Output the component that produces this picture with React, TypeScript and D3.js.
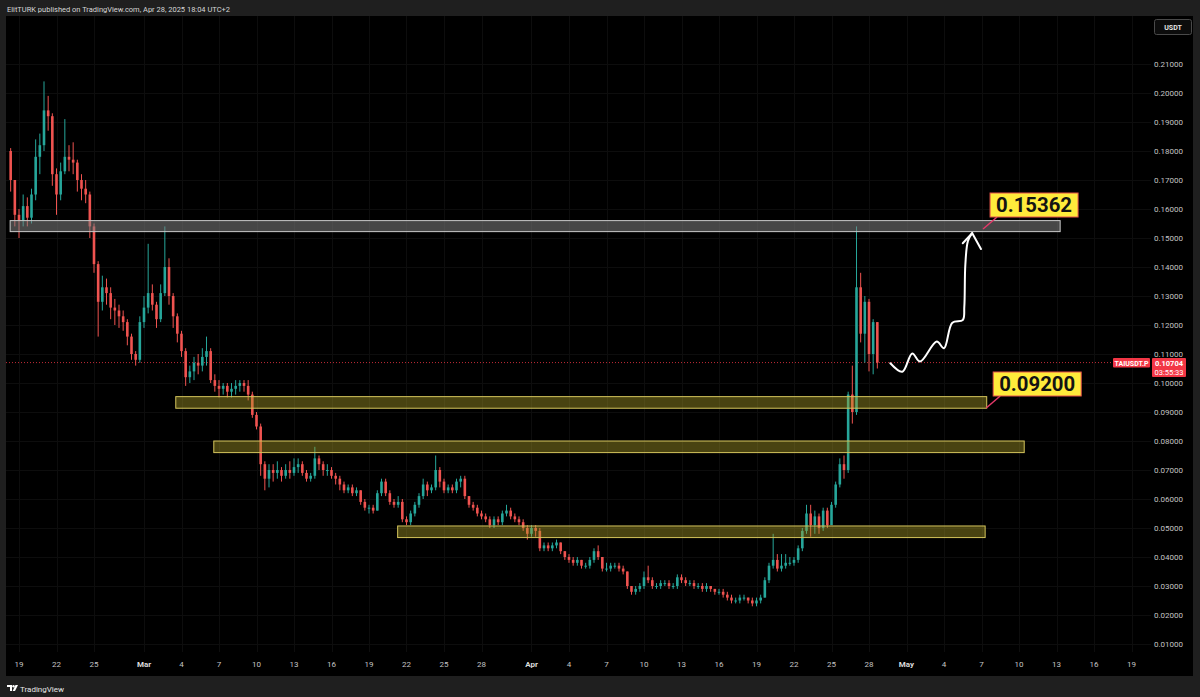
import React from 'react';
import * as d3 from 'd3';

// ---------- DATA (8h candles, prices in thousandths of USDT) ----------
const START_TIME = Date.UTC(2025, 1, 18, 8);
const STEP_MS = 8 * 3600 * 1000;
const FIRST_OPEN_K = 180;

const closesK = [
  170, 158, 156, 161, 157, 165, 178, 182, 194, 192,
  172, 165, 173, 178, 177, 176, 170, 167, 165, 154,
  141, 128, 133, 131, 126, 125, 123, 121, 116, 110,
  108, 121, 126, 131, 127, 122, 131, 140, 130, 123,
  117, 111, 102, 104, 107, 106, 109, 111, 101, 99,
  98, 99, 97, 98, 99, 100, 99, 96, 89, 85,
  72, 67, 70, 69, 70, 68, 70, 69, 71, 72,
  69, 67, 68, 74, 72, 70, 70, 68, 67, 65,
  63, 64, 62, 63, 59, 57, 57, 56, 62, 66,
  62, 59, 58, 59, 53, 52, 55, 58, 61, 65,
  63, 64, 70, 66, 63, 64, 63, 66, 67, 61,
  58, 57, 55, 54, 53, 51, 53, 52, 55, 56,
  54, 53, 52, 50, 48, 50, 49, 43, 44, 43,
  44, 45, 42, 40, 39, 38, 39, 37, 37, 39,
  42, 40, 36, 36, 37, 37, 36, 35, 30, 28,
  29, 30, 33, 32, 30, 30, 31, 31, 30, 30,
  33, 32, 31, 31, 30, 30, 29, 30, 29, 28,
  28, 27, 26, 25, 25, 26, 26, 25, 24, 25,
  26, 32, 37, 39, 36, 37, 38, 38, 39, 43,
  49, 55, 51, 54, 50, 56, 51, 58, 65, 72,
  70, 96, 90, 133, 117, 128, 110, 121, 107.04,
];

const highsK = [
  181, 168, 160, 165, 164, 167, 184, 186, 204, 199,
  193, 174, 176, 191, 182, 183, 177, 172, 170, 166,
  155, 142, 137, 136, 133, 129, 127, 125, 122, 117,
  111, 123, 130, 148, 134, 128, 134, 154, 143, 131,
  124, 118, 112, 106, 109, 110, 112, 116, 112, 103,
  101, 100, 100, 100, 101, 101, 101, 101, 97, 90,
  86, 73, 72, 72, 73, 71, 72, 73, 74, 74,
  73, 70, 69, 78, 75, 73, 72, 71, 69, 68,
  66, 65, 65, 64, 63, 60, 58, 58, 63, 67,
  67, 63, 60, 61, 60, 54, 56, 59, 62, 67,
  66, 65, 75, 71, 67, 65, 65, 67, 68, 68,
  61, 59, 58, 56, 55, 54, 54, 54, 56, 58,
  57, 55, 54, 53, 51, 51, 51, 50, 45, 45,
  45, 46, 45, 42, 41, 40, 40, 39, 38, 40,
  43, 44, 40, 38, 38, 38, 38, 37, 35, 30,
  30, 31, 35, 37, 33, 31, 32, 32, 32, 31,
  34, 34, 33, 32, 32, 31, 31, 31, 30, 29,
  29, 29, 28, 27, 26, 27, 27, 26, 26, 26,
  27, 33, 38, 48, 41, 41, 41, 40, 40, 44,
  50, 58, 58, 56, 55, 57, 57, 59, 66, 74,
  75, 97, 106, 154, 138, 130, 129, 122, 121,
];

const lowsK = [
  166, 154, 150, 154, 154, 155, 163, 172, 180, 187,
  168, 158, 163, 172, 173, 172, 166, 163, 162, 150,
  138, 116, 125, 127, 122, 120, 119, 118, 113, 108,
  106, 107, 119, 124, 125, 119, 121, 130, 127, 119,
  114, 109, 99, 100, 101, 103, 104, 106, 100, 97,
  95, 96, 95, 95, 96, 97, 97, 94, 88, 84,
  68, 63, 64, 66, 67, 66, 67, 67, 68, 69,
  68, 66, 66, 67, 70, 68, 68, 67, 65, 63,
  62, 62, 61, 61, 58, 56, 55, 55, 56, 61,
  61, 58, 57, 57, 52, 51, 51, 54, 57, 60,
  61, 62, 63, 64, 62, 62, 62, 62, 64, 60,
  57, 56, 54, 53, 52, 50, 50, 51, 51, 54,
  53, 52, 51, 49, 46, 47, 47, 42, 42, 42,
  42, 43, 41, 39, 38, 37, 37, 36, 36, 36,
  38, 39, 35, 35, 35, 36, 35, 34, 29, 27,
  27, 28, 29, 31, 29, 29, 29, 30, 29, 29,
  29, 31, 30, 30, 29, 29, 28, 28, 28, 27,
  27, 26, 25, 24, 24, 24, 25, 24, 23, 23,
  24, 26, 31, 36, 35, 35, 36, 37, 37, 38,
  42, 48, 47, 48, 48, 49, 50, 51, 57, 64,
  67, 69, 86, 89, 114, 107, 104, 103, 105,
];

const yTickValues = [
  0.01, 0.02, 0.03, 0.04, 0.05, 0.06, 0.07, 0.08, 0.09, 0.1, 0.11,
  0.12, 0.13, 0.14, 0.15, 0.16, 0.17, 0.18, 0.19, 0.2, 0.21,
];

const xTickDates = [
  [1, 19], [1, 22], [1, 25], [2, 1], [2, 4], [2, 7], [2, 10], [2, 13], [2, 16], [2, 19],
  [2, 22], [2, 25], [2, 28], [3, 1], [3, 4], [3, 7], [3, 10], [3, 13], [3, 16], [3, 19],
  [3, 22], [3, 25], [3, 28], [4, 1], [4, 4], [4, 7], [4, 10], [4, 13], [4, 16], [4, 19],
];
const xTickLabels = [
  '19', '22', '25', 'Mar', '4', '7', '10', '13', '16', '19',
  '22', '25', '28', 'Apr', '4', '7', '10', '13', '16', '19',
  '22', '25', '28', 'May', '4', '7', '10', '13', '16', '19',
];

const LAST_PRICE = 0.10704;
const COUNTDOWN = '03:55:33';
const SYMBOL = 'TAIUSDT.P';

// zones
const zoneStarts = [Date.UTC(2025, 1, 18, 7), Date.UTC(2025, 2, 3, 13), Date.UTC(2025, 2, 6, 14), Date.UTC(2025, 2, 21, 7)];
const zoneEnds = [Date.UTC(2025, 4, 13, 7), Date.UTC(2025, 4, 7, 10), Date.UTC(2025, 4, 10, 10), Date.UTC(2025, 4, 7, 7)];
const zoneLows = [0.1522, 0.0913, 0.076, 0.0467];
const zoneHighs = [0.156, 0.0953, 0.08, 0.0507];
const zoneKinds = ['gray', 'yellow', 'yellow', 'yellow'];

const calloutTexts = ['0.15362', '0.09200'];
const calloutTimes = [Date.UTC(2025, 4, 7, 3), Date.UTC(2025, 4, 7, 9)];
const calloutPrices = [0.1531, 0.09138];

// hand-drawn arrow (time, price)
const arrowTimes = [
  Date.UTC(2025, 3, 29, 17), Date.UTC(2025, 3, 30, 16), Date.UTC(2025, 4, 1, 11), Date.UTC(2025, 4, 2, 2),
  Date.UTC(2025, 4, 3, 10), Date.UTC(2025, 4, 4, 0), Date.UTC(2025, 4, 4, 16), Date.UTC(2025, 4, 5, 12),
  Date.UTC(2025, 4, 5, 15), Date.UTC(2025, 4, 5, 17), Date.UTC(2025, 4, 5, 22), Date.UTC(2025, 4, 6, 6),
];
const arrowPrices = [0.1068, 0.1039, 0.1102, 0.1074, 0.1143, 0.112, 0.1208, 0.1217, 0.1263, 0.1409, 0.149, 0.1517];
const arrowHeadTimes = [Date.UTC(2025, 4, 5, 12), Date.UTC(2025, 4, 6, 6), Date.UTC(2025, 4, 6, 23)];
const arrowHeadPrices = [0.1482, 0.1517, 0.1462];

// ---------- CHART ----------
const W = 1200;
const H = 697;
const PANEL = { x: 6, y: 16, w: 1187, h: 660 };
const FONT = 'Roboto, "Liberation Sans", sans-serif';
const UP = '#26a69a';
const DOWN = '#ef5350';

export default function App() {
  const x = d3
    .scaleUtc()
    .domain([new Date(Date.UTC(2025, 1, 19)), new Date(Date.UTC(2025, 3, 28))])
    .range([19, 869]);
  const y = d3.scaleLinear().domain([0.01, 0.21]).range([644, 64]);

  const candles = closesK.map((c, i) => {
    const open = (i === 0 ? FIRST_OPEN_K : closesK[i - 1]) / 1000;
    const close = c / 1000;
    const high = Math.max(highsK[i] / 1000, open, close);
    const low = Math.min(lowsK[i] / 1000, open, close);
    return { t: new Date(START_TIME + i * STEP_MS), open, close, high, low };
  });
  const bodyW = 2.6;

  const arrowLine = d3
    .line<number>()
    .x((_, i) => x(new Date(arrowTimes[i])))
    .y((p) => y(p))
    .curve(d3.curveCatmullRom.alpha(0.5));
  const headLine = d3
    .line<number>()
    .x((_, i) => x(new Date(arrowHeadTimes[i])))
    .y((p) => y(p));

  const plotRight = 1151;
  const priceY = y(LAST_PRICE);

  return (
    <div style={{ position: 'fixed', left: 0, top: 0, width: W, height: H }}>
      <svg width={W} height={H} style={{ display: 'block', fontFamily: FONT }}>
        <rect x={0} y={0} width={W} height={H} fill="#1f1f1f" />
        <text x={7} y={12} fontSize={8} fill="#d6d6d6" textLength={223} lengthAdjust="spacingAndGlyphs">
          ElitTURK published on TradingView.com, Apr 28, 2025 18:04 UTC+2
        </text>
        <rect x={PANEL.x} y={PANEL.y} width={PANEL.w} height={PANEL.h} fill="#000" />

        {/* grid */}
        <g stroke="#0d0d0d" strokeWidth={1}>
          {xTickDates.map(([m, d], i) => {
            const xx = Math.round(x(new Date(Date.UTC(2025, m, d)))) + 0.5;
            return <line key={'vg' + i} x1={xx} x2={xx} y1={PANEL.y} y2={652} />;
          })}
          {yTickValues.map((v, i) => {
            const yy = Math.round(y(v)) + 0.5;
            return <line key={'hg' + i} x1={PANEL.x} x2={plotRight} y1={yy} y2={yy} />;
          })}
        </g>

        {/* last price dotted line */}
        <line
          x1={PANEL.x}
          x2={1113}
          y1={priceY}
          y2={priceY}
          stroke="#f23645"
          strokeWidth={1}
          strokeDasharray="1 2"
          opacity={0.8}
        />

        {/* candles */}
        <g>
          {candles.map((c, i) => {
            const cx = x(c.t);
            const col = c.close >= c.open ? UP : DOWN;
            const top = y(Math.max(c.open, c.close));
            const bot = y(Math.min(c.open, c.close));
            return (
              <g key={'c' + i}>
                <line x1={cx} x2={cx} y1={y(c.high)} y2={y(c.low)} stroke={col} strokeWidth={1} />
                <rect x={cx - bodyW / 2} y={top} width={bodyW} height={Math.max(1, bot - top)} fill={col} />
              </g>
            );
          })}
        </g>

        {/* zones */}
        {zoneStarts.map((s, i) => {
          const x0 = x(new Date(s));
          const x1 = x(new Date(zoneEnds[i]));
          const y0 = y(zoneHighs[i]);
          const y1 = y(zoneLows[i]);
          const gray = zoneKinds[i] === 'gray';
          return (
            <rect
              key={'z' + i}
              x={x0}
              y={y0}
              width={x1 - x0}
              height={y1 - y0}
              fill={gray ? 'rgba(130,130,130,0.55)' : 'rgba(175,160,40,0.42)'}
              stroke={gray ? '#c9c9c9' : '#d4c45c'}
              strokeWidth={1}
            />
          );
        })}

        {/* arrow */}
        <path d={arrowLine(arrowPrices) || ''} fill="none" stroke="#fff" strokeWidth={2} strokeLinecap="round" strokeLinejoin="round" />
        <path d={headLine(arrowHeadPrices) || ''} fill="none" stroke="#fff" strokeWidth={2} strokeLinecap="round" strokeLinejoin="round" />

        {/* callouts */}
        {calloutTexts.map((t, i) => {
          const ax = x(new Date(calloutTimes[i]));
          const ay = y(calloutPrices[i]);
          const bx = ax + 7;
          const by = ay - 36;
          return (
            <g key={'co' + i}>
              <line x1={ax} y1={ay} x2={bx + 7} y2={by + 24} stroke="#e5396a" strokeWidth={1.5} />
              <rect x={bx} y={by} width={88} height={24} fill="#ffeb3b" stroke="#e8534a" strokeWidth={1} />
              <text
                x={bx + 44}
                y={by + 19}
                textAnchor="middle"
                fontSize={20}
                fontWeight={700}
                fill="#131313"
                textLength={76}
                lengthAdjust="spacingAndGlyphs"
              >
                {t}
              </text>
            </g>
          );
        })}

        {/* price axis labels */}
        {yTickValues.map((v, i) => (
          <text key={'yl' + i} x={1183} y={y(v) + 3} fontSize={8} fill="#c4c4c4" textAnchor="end">
            {d3.format('.5f')(v)}
          </text>
        ))}

        {/* last price tags */}
        <rect x={1113} y={358} width={37} height={9.5} fill="#f23645" rx={1} />
        <text x={1131.5} y={365.5} fontSize={7} fontWeight={700} fill="#fff" textAnchor="middle">
          {SYMBOL}
        </text>
        <rect x={1152} y={358} width={34} height={19} fill="#f23645" rx={1} />
        <text x={1169} y={365.5} fontSize={7.5} fontWeight={700} fill="#fff" textAnchor="middle">
          {d3.format('.5f')(LAST_PRICE)}
        </text>
        <text x={1169} y={374.5} fontSize={7.5} fill="#fff" textAnchor="middle">
          {COUNTDOWN}
        </text>

        {/* USDT box */}
        <rect x={1154.5} y={19.5} width={37} height={15} fill="#0c0c0c" stroke="#4a4a4a" rx={2} />
        <text x={1173} y={30} fontSize={7} fontWeight={700} fill="#e6e6e6" textAnchor="middle">
          USDT
        </text>

        {/* time axis labels */}
        {xTickDates.map(([m, d], i) => {
          const isMonth = xTickLabels[i].length === 3;
          return (
            <text
              key={'xl' + i}
              x={x(new Date(Date.UTC(2025, m, d)))}
              y={667}
              fontSize={8}
              fill={isMonth ? '#dcdcdc' : '#c4c4c4'}
              fontWeight={isMonth ? 700 : 400}
              textAnchor="middle"
            >
              {xTickLabels[i]}
            </text>
          );
        })}

        {/* TradingView logo */}
        <g transform="translate(7,685)">
          <path d="M0 0 H5 V6 H3 V2 H0 Z" fill="#fff" />
          <circle cx={6.5} cy={1.2} r={1.2} fill="#fff" />
          <path d="M8.5 0 H11 L8 6 H5.6 Z" fill="#fff" />
          <text x={13} y={6.5} fontSize={8} fill="#e6e6e6">
            TradingView
          </text>
        </g>
      </svg>
    </div>
  );
}
